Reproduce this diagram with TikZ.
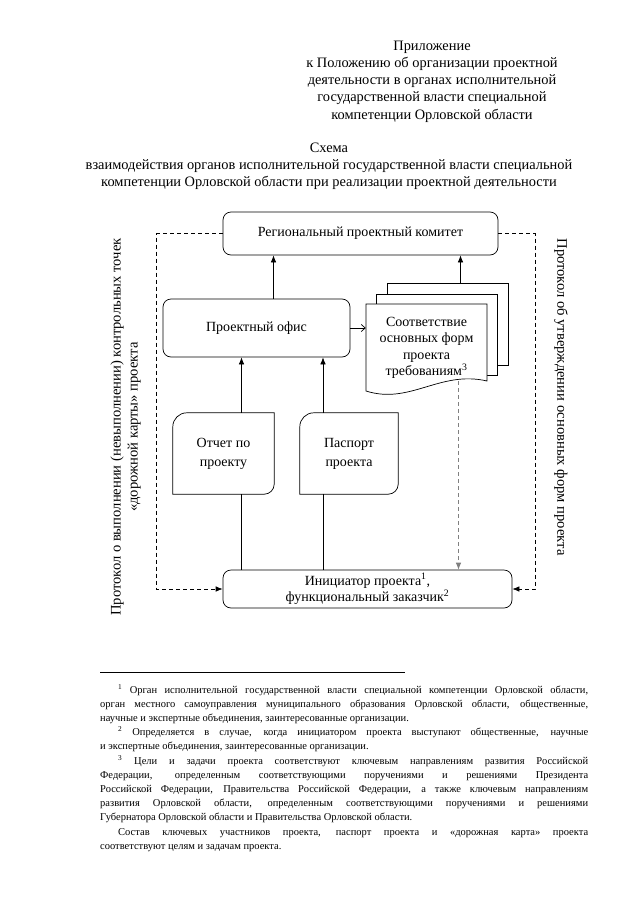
\documentclass[tikz,border=0pt]{standalone}
\usepackage{fontspec}
\setmainfont{Liberation Serif}
\usetikzlibrary{arrows.meta,positioning}

\begin{document}
\begin{tikzpicture}[x=1pt,y=-1pt,
  box/.style={draw,rounded corners=8pt,line width=0.7pt,align=center,
    font=\fontsize{14}{16.5}\selectfont},
  card/.style={minimum width=101pt,minimum height=81pt,align=center,
    font=\fontsize{14}{19}\selectfont},
  kontur/.style={line width=0.7pt},
  page/.style={draw,fill=white,line width=0.7pt,minimum width=121pt,
    minimum height=82pt,inner sep=0pt},
  arr/.style={line width=0.7pt,-{Latex[length=7pt,width=5.5pt]}},
  pun/.style={line width=0.7pt,dash pattern=on 4pt off 3pt,
    -{Latex[length=7pt,width=5.5pt]}},
  lab/.style={align=center,font=\fontsize{14}{16.5}\selectfont},
  bok/.style={align=center,font=\fontsize{14.6}{17}\selectfont},
  shapka/.style={align=center,font=\fontsize{14.4}{17.2}\selectfont},
  snoska/.style={text width=488pt,align=justify,inner sep=0pt,
    font=\fontsize{10.5}{14.2}\selectfont}
]
  \useasboundingbox (0,0) rectangle (640,905);

  \node[shapka] (prilozh) at (432,81.5) {Приложение\\к Положению об организации проектной\\деятельности в органах исполнительной\\государственной власти специальной\\компетенции Орловской области};
  \node[shapka] (shema) at (329,166) {Схема\\взаимодействия органов исполнительной государственной власти специальной\\компетенции Орловской области при реализации проектной деятельности};

  \node[box,minimum width=275pt,minimum height=43pt] (komitet) at (360.5,233.5) {Региональный проектный комитет};
  \node[box,minimum width=187pt,minimum height=58pt] (ofis) at (256.5,328) {Проектный офис};
  \node[box,minimum width=289pt,minimum height=38pt] (iniciator) at (367.5,589) {Инициатор проекта\textsuperscript{1},\\функциональный заказчик\textsuperscript{2}};

  \node[card] (otchet) at (223.5,453.5) {Отчет по\\проекту};
  \node[card,minimum width=98pt] (pasport) at (349,453.5) {Паспорт\\проекта};
  \draw[kontur] (otchet.west) [rounded corners=14pt] -- (otchet.north west) -- (otchet.north) [sharp corners] -- (otchet.north east) -- (otchet.east) [rounded corners=10pt] -- (otchet.south east) -- (otchet.south) [sharp corners] -- (otchet.south west) -- cycle;
  \draw[kontur] (pasport.west) [rounded corners=14pt] -- (pasport.north west) -- (pasport.north) [sharp corners] -- (pasport.north east) -- (pasport.east) [rounded corners=10pt] -- (pasport.south east) -- (pasport.south) [sharp corners] -- (pasport.south west) -- cycle;

  \node[page] (list3) at (447.5,324) {};
  \node[page,minimum height=81pt] (list2) at (436.5,334.5) {};
  \draw[kontur,fill=white] (366,304) -- (487,304) -- (487,381) .. controls (440,370) and (410,405) .. (366,391) -- cycle;
  \node[lab,minimum width=121pt,minimum height=66pt,inner sep=0pt] (dok) at (426.5,348) {Соответствие\\основных форм\\проекта\\требованиям\textsuperscript{3}};

  \draw[arr] ([xshift=17pt]ofis.north) -- ([xshift=17pt]ofis.north |- komitet.south);
  \draw[arr] ([xshift=13pt]list3.north) -- ([xshift=13pt]list3.north |- komitet.south);
  \draw[kontur,-{Straight Barb[length=4pt,width=7pt]}] (ofis.east) -- (ofis.east -| dok.west);
  \draw[kontur] ([xshift=18pt]otchet.south) -- ([xshift=18pt]otchet.south |- iniciator.north);
  \draw[arr] ([xshift=18pt]otchet.north) -- ([xshift=18pt]otchet.north |- ofis.south);
  \draw[kontur] ([xshift=-26pt]pasport.south) -- ([xshift=-26pt]pasport.south |- iniciator.north);
  \draw[arr] ([xshift=-26pt]pasport.north) -- ([xshift=-26pt]pasport.north |- ofis.south);
  \draw[pun,gray] ([xshift=32pt]dok.south) -- ([xshift=32pt]dok.south |- iniciator.north);
  \draw[pun] (komitet.west) -- ++(-66,0) |- (iniciator.west);
  \draw[pun] (komitet.east) -- ++(37,0) |- (iniciator.east);

  \node[bok,rotate=90] (protokol) at (125.5,427) {Протокол о выполнении (невыполнении) контрольных точек\\«дорожной карты» проекта};
  \node[bok,rotate=-90] (utverzhd) at (561,397) {Протокол об утверждении основных форм проекта};

  \draw[kontur] (100,672) -- (405,672);
  \node[snoska,anchor=north west] (snoski) at (100,684) {%
    \hspace*{18pt}\textsuperscript{1} Орган исполнительной государственной власти специальной компетенции Орловской области,\linebreak
    орган местного самоуправления муниципального образования Орловской области, общественные,\linebreak
    научные и экспертные объединения, заинтересованные организации.\par
    \hspace*{18pt}\textsuperscript{2} Определяется в случае, когда инициатором проекта выступают общественные, научные\linebreak
    и экспертные объединения, заинтересованные организации.\par
    \hspace*{18pt}\textsuperscript{3} Цели и задачи проекта соответствуют ключевым направлениям развития Российской\linebreak
    Федерации, определенным соответствующими поручениями и решениями Президента\linebreak
    Российской Федерации, Правительства Российской Федерации, а также ключевым направлениям\linebreak
    развития Орловской области, определенным соответствующими поручениями и решениями\linebreak
    Губернатора Орловской области и Правительства Орловской области.\par
    \hspace*{18pt}Состав ключевых участников проекта, паспорт проекта и «дорожная карта» проекта\linebreak
    соответствуют целям и задачам проекта.};
\end{tikzpicture}
\end{document}
